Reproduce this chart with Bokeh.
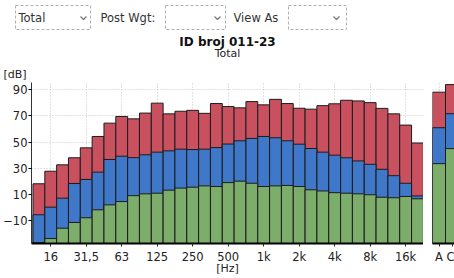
from bokeh.plotting import figure
from bokeh.models import Range1d, FixedTicker
from bokeh.layouts import column, row
from bokeh.core.properties import value
from bokeh.embed import file_html
from bokeh.resources import INLINE

# ---- data ----
bands = ["12.5", "16", "20", "25", "31,5", "40", "50", "63", "80", "100", "125", "160",
         "200", "250", "315", "400", "500", "630", "800", "1k", "1.25k", "1.6k", "2k",
         "2.5k", "3.15k", "4k", "5k", "6.3k", "8k", "10k", "12.5k", "16k", "20k"]
tick_labels = ["16", "31,5", "63", "125", "250", "500", "1k", "2k", "4k", "8k", "16k"]
lmax = [18.1, 27.7, 32.6, 38.0, 45.6, 54.3, 64.5, 69.6, 67.8, 72.2, 79.8, 71.6, 73.6,
        74.3, 72.0, 79.5, 77.2, 76.2, 81.0, 78.5, 82.7, 79.5, 75.9, 75.2, 77.9, 79.3,
        82.0, 81.5, 80.2, 75.8, 71.6, 63.0, 49.3]
leq = [-5.6, 0.2, 7.1, 18.3, 21.4, 27.0, 36.7, 39.2, 38.1, 40.3, 42.3, 43.3, 44.6, 44.3,
       44.6, 45.8, 48.5, 51.0, 52.8, 54.3, 53.3, 51.0, 48.4, 45.1, 42.3, 40.0, 38.0, 35.6,
       33.0, 29.2, 24.3, 18.5, 8.8]
lmin = [-27.0, -23.8, -15.9, -11.5, -7.9, -1.8, 2.0, 4.5, 9.0, 10.4, 10.9, 13.2, 14.8,
        15.5, 16.5, 16.0, 19.0, 20.1, 18.5, 16.0, 16.5, 16.8, 16.0, 13.5, 12.6, 11.3,
        10.9, 10.4, 9.7, 7.8, 7.4, 8.4, 6.6]
totals = ["A", "C"]
tot_max = [88.2, 94.0]
tot_eq = [61.0, 71.7]
tot_min = [33.5, 45.0]
y_ticks = [-10, 10, 30, 50, 70, 90]

RED = "#c9515f"
BLUE = "#3f77c9"
GREEN = "#7dad6b"
EDGE = "#1c1c1c"
FONT = value("DejaVu Sans")
YR = (-27.6, 95.6)

# ---- top strip: selectors and titles ----
top = figure(width=454, height=80, x_range=Range1d(0, 454), y_range=Range1d(80, 0),
             toolbar_location=None, output_backend="svg", min_border=0,
             x_axis_location=None, y_axis_location=None)
top.grid.visible = False
top.outline_line_color = None
top.quad(left=[15, 165, 288], right=[90, 225, 346], top=[5, 5, 5], bottom=[29, 29, 29],
         fill_color="white", line_color="#b0b0b0", line_dash="3 2")
top.multi_line(xs=[[80, 83, 86], [214, 217, 220], [333, 336, 339]],
               ys=[[16, 19, 16]] * 3, line_color="#777777", line_width=1.2)
top.text(x=[18, 100, 233], y=[17.5, 17.5, 17.5], text=["Total", "Post Wgt:", "View As"],
         text_baseline="middle", text_font=FONT, text_font_size="11.5px", text_color="#333333")
top.text(x=[227], y=[41], text=["ID broj 011-23"], text_align="center", text_baseline="middle",
         text_font=FONT, text_font_size="12px", text_font_style="bold", text_color="#111111")
top.text(x=[227], y=[53], text=["Total"], text_align="center", text_baseline="middle",
         text_font=FONT, text_font_size="11px", text_color="#222222")
top.text(x=[3], y=[73.5], text=["[dB]"], text_baseline="middle",
         text_font=FONT, text_font_size="11px", text_color="#222222")


def style(p, xticks):
    p.outline_line_color = None
    p.xaxis.ticker = FixedTicker(ticks=xticks)
    p.xaxis.axis_line_width = 2
    p.xaxis.axis_line_color = "#000000"
    p.xaxis.major_tick_out = 3
    p.xaxis.major_tick_in = 0
    p.xaxis.major_tick_line_color = "#222222"
    p.xaxis.minor_tick_line_color = None
    p.xaxis.major_label_standoff = 3
    p.xaxis.major_label_text_font = "DejaVu Sans"
    p.xaxis.major_label_text_font_size = "11.5px"
    p.xaxis.major_label_text_color = "#222222"
    p.xgrid.ticker = FixedTicker(ticks=xticks)
    p.ygrid.ticker = FixedTicker(ticks=y_ticks)
    p.grid.grid_line_color = "#c4c4c4"
    p.grid.grid_line_dash = "1 2"


def bars(p, xs, hi, mid, lo):
    for vals, col in ((hi, RED), (mid, BLUE), (lo, GREEN)):
        p.vbar(x=xs, width=1.0, top=vals, bottom=-60, fill_color=col,
               line_color=EDGE, line_width=1)


# ---- main 1/3-octave chart ----
idx = list(range(len(bands)))
tick_idx = [bands.index(t) for t in tick_labels]
main = figure(width=423, height=198, x_range=Range1d(-0.626, 32.51), y_range=Range1d(*YR),
              toolbar_location=None, output_backend="svg",
              min_border_left=30, min_border_right=0, min_border_top=2, min_border_bottom=35)
style(main, tick_idx)
main.xaxis.major_label_overrides = {i: t for i, t in zip(tick_idx, tick_labels)}
main.xaxis.axis_label = "[Hz]"
main.xaxis.axis_label_standoff = -5
main.xaxis.axis_label_text_align = "left"
main.xaxis.axis_label_text_font = "DejaVu Sans"
main.xaxis.axis_label_text_font_size = "11px"
main.xaxis.axis_label_text_font_style = "normal"
main.xaxis.axis_label_text_color = "#222222"
main.yaxis.ticker = FixedTicker(ticks=y_ticks)
main.yaxis.axis_line_color = "#333333"
main.yaxis.major_tick_out = 3
main.yaxis.major_tick_in = 0
main.yaxis.minor_tick_line_color = None
main.yaxis.major_label_standoff = 1
main.yaxis.major_label_text_font = "DejaVu Sans"
main.yaxis.major_label_text_font_size = "11.5px"
main.yaxis.major_label_text_color = "#222222"
bars(main, idx, lmax, leq, lmin)

# ---- overall A / C panel ----
tidx = list(range(len(totals)))
ac = figure(width=31, height=198, x_range=Range1d(-0.5, 1.192), y_range=Range1d(*YR),
            toolbar_location=None, output_backend="svg", y_axis_location=None,
            min_border_left=9, min_border_right=0, min_border_top=2, min_border_bottom=35)
style(ac, tidx)
ac.xaxis.major_label_overrides = {i: t for i, t in zip(tidx, totals)}
bars(ac, tidx, tot_max, tot_eq, tot_min)

layout = column(top, row(main, ac))
open("out.html", "w").write(file_html(layout, INLINE))
